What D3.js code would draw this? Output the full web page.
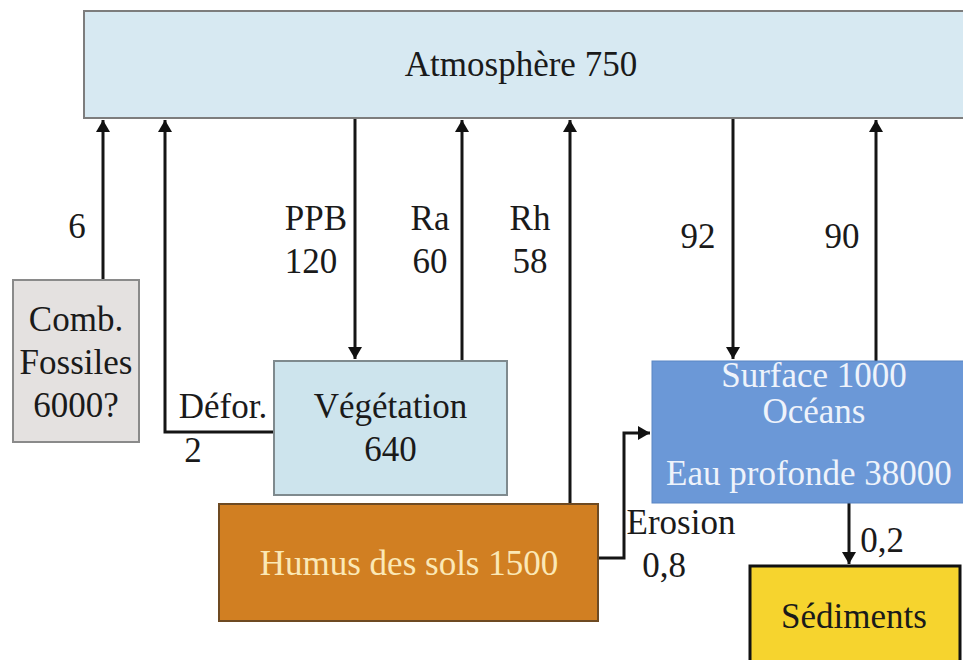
<!DOCTYPE html>
<html>
<head>
<meta charset="utf-8">
<script src="https://cdn.jsdelivr.net/npm/d3@7"></script>
<style>
  body { margin: 0; background: #fff; }
</style>
</head>
<body>
<div id="chart"></div>
<script>
// Stocks (reservoirs) and their text lines
const stockIds = ["atm", "fossil", "veg", "humus", "ocean", "sed"];
const stockLines = [
    ["Atmosphère 750"],
    ["Comb.", "Fossiles", "6000?"],
    ["Végétation", "640"],
    ["Humus des sols 1500"],
    ["Surface 1000", "Océans", "", "Eau profonde 38000"],
    ["Sédiments"]
];

// Fluxes between the stocks
const fluxFrom = ["fossil", "veg", "atm", "veg", "humus", "atm", "ocean", "humus", "ocean"];
const fluxTo = ["atm", "atm", "veg", "atm", "atm", "ocean", "atm", "ocean", "sed"];
const fluxLabels = [["6"], ["Défor.", "2"], ["PPB", "120"], ["Ra", "60"], ["Rh", "58"], ["92"], ["90"], ["Erosion", "0,8"], ["0,2"]];

const width = 963;
const height = 660;
const fontFamily = "'Liberation Serif', 'Times New Roman', Times, 'DejaVu Serif', serif";

// Layout (pixels)
const boxes = {
    atm:    { x0: 84,  x1: 975, y0: 11,  y1: 118, fill: "#d7e9f2", stroke: "#7d7d7d", sw: 2, color: "#1a1a1a", lineY: [76] },
    fossil: { x0: 13,  x1: 139, y0: 280, y1: 442, fill: "#e4e1e0", stroke: "#8a8a8a", sw: 2, color: "#1a1a1a", lineY: [331, 374, 417] },
    veg:    { x0: 274, x1: 507, y0: 361, y1: 495, fill: "#cde4ed", stroke: "#7f8a8e", sw: 2, color: "#1a1a1a", lineY: [418, 461] },
    humus:  { x0: 219, x1: 598, y0: 504, y1: 621, fill: "#d17f22", stroke: "#6e4a22", sw: 2, color: "#fbe8b6", lineY: [575] },
    ocean:  { x0: 652, x1: 975, y0: 361, y1: 503, fill: "#6b98d7", stroke: "#5a86c4", sw: 1, color: "#eef3fb", lineY: [387, 423, 0, 485] },
    sed:    { x0: 750, x1: 960, y0: 566, y1: 700, fill: "#f6d42e", stroke: "#111", sw: 3, color: "#1a1a1a", lineY: [628] }
};

// Flux routes as point lists and label anchors
const routes = [
    { pts: [[103, 280], [103, 120]], lab: [[77, 238]] },
    { pts: [[274, 432], [165, 432], [165, 120]], lab: [[223, 418], [193, 462]] },
    { pts: [[355, 118], [355, 359]], lab: [[316, 230], [311, 273]] },
    { pts: [[462, 361], [462, 120]], lab: [[430, 230], [430, 273]] },
    { pts: [[570, 504], [570, 120]], lab: [[530, 230], [530, 273]] },
    { pts: [[733, 118], [733, 359]], lab: [[698, 248]] },
    { pts: [[876, 361], [876, 120]], lab: [[842, 248]] },
    { pts: [[598, 558], [624, 558], [624, 433], [650, 433]], lab: [[681, 534], [664, 577]] },
    { pts: [[849, 503], [849, 564]], lab: [[882, 552]] }
];

const svg = d3.select("#chart")
    .append("svg")
    .attr("width", width)
    .attr("height", height);

svg.append("defs")
    .append("marker")
    .attr("id", "head")
    .attr("viewBox", "0 0 12 14")
    .attr("refX", 12)
    .attr("refY", 7)
    .attr("markerWidth", 12)
    .attr("markerHeight", 14)
    .attr("markerUnits", "userSpaceOnUse")
    .attr("orient", "auto")
    .append("path")
    .attr("d", "M0,0 L12,7 L0,14 Z")
    .attr("fill", "#111");

// Draw flux arrows (under the boxes)
const line = d3.line();
svg.selectAll(".flux")
    .data(routes)
    .enter()
    .append("path")
    .attr("class", "flux")
    .attr("d", d => line(d.pts))
    .attr("fill", "none")
    .attr("stroke", "#151515")
    .attr("stroke-width", 3)
    .attr("marker-end", "url(#head)");

// Draw stock boxes
const stockG = svg.selectAll(".stock")
    .data(stockIds)
    .enter()
    .append("g")
    .attr("class", "stock");

stockG.append("rect")
    .attr("x", id => boxes[id].x0)
    .attr("y", id => boxes[id].y0)
    .attr("width", id => boxes[id].x1 - boxes[id].x0)
    .attr("height", id => boxes[id].y1 - boxes[id].y0)
    .attr("fill", id => boxes[id].fill)
    .attr("stroke", id => boxes[id].stroke)
    .attr("stroke-width", id => boxes[id].sw);

// Stock text
stockIds.forEach((id, i) => {
    const b = boxes[id];
    let cx = (b.x0 + Math.min(b.x1, width)) / 2;
    if (id === "atm") cx = 521;
    if (id === "ocean") cx = 809;
    if (id === "sed") cx = 854;
    if (id === "humus") cx = 409;
    stockLines[i].forEach((t, k) => {
        if (!t) return;
        svg.append("text")
            .attr("x", id === "ocean" && k < 2 ? cx + 5 : cx)
            .attr("y", b.lineY[k])
            .attr("text-anchor", "middle")
            .attr("font-family", fontFamily)
            .attr("font-size", 35)
            .attr("fill", b.color)
            .text(t);
    });
});

// Flux labels
fluxLabels.forEach((lab, i) => {
    lab.forEach((t, k) => {
        svg.append("text")
            .attr("x", routes[i].lab[k][0])
            .attr("y", routes[i].lab[k][1])
            .attr("text-anchor", "middle")
            .attr("font-family", fontFamily)
            .attr("font-size", 35)
            .attr("fill", "#1a1a1a")
            .text(t);
    });
});
</script>
</body>
</html>
